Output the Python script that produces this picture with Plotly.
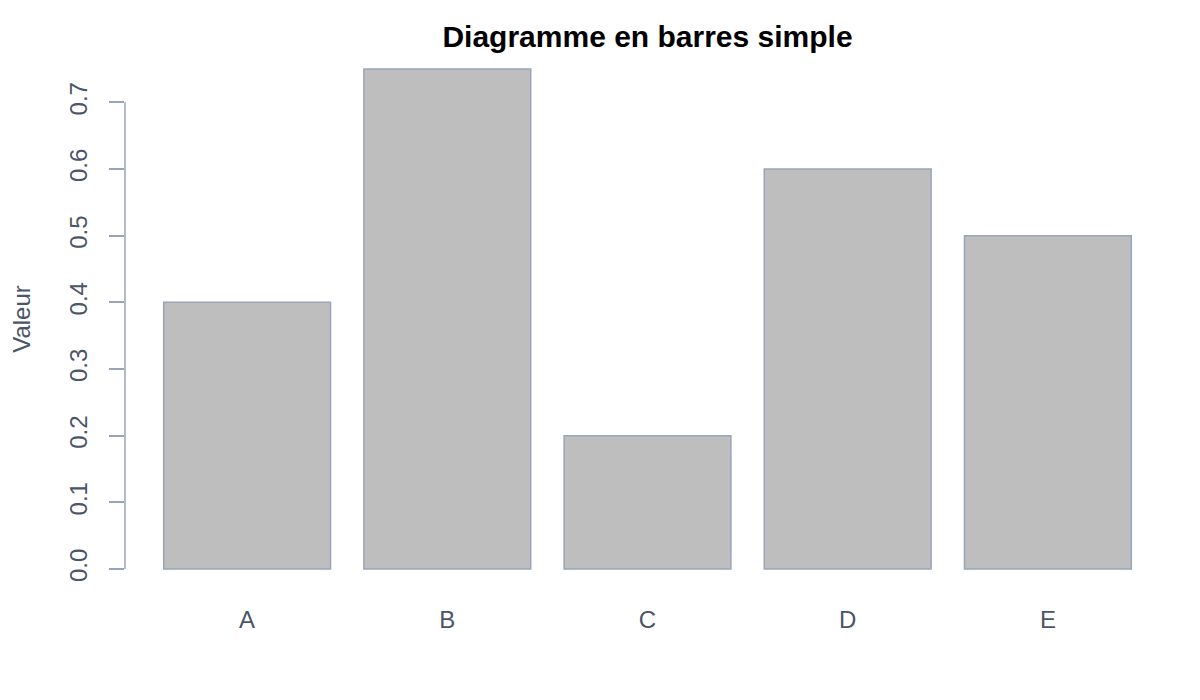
import plotly.graph_objects as go

categories = ["A", "B", "C", "D", "E"]
values = [0.4, 0.75, 0.2, 0.6, 0.5]
y_ticks = [0.0, 0.1, 0.2, 0.3, 0.4, 0.5, 0.6, 0.7]

axis_col = "#97a5ba"
text_col = "#4a5568"

fig = go.Figure()

fig.add_trace(
    go.Bar(
        x=categories,
        y=values,
        marker=dict(color="#bebebe", line=dict(color=axis_col, width=1.5)),
        hoverinfo="x+y",
    )
)

# R-style axis line: only from the first to the last tick
fig.add_shape(
    type="line",
    xref="paper",
    yref="y",
    x0=0,
    x1=0,
    y0=y_ticks[0],
    y1=y_ticks[-1],
    line=dict(color=axis_col, width=1.5),
)

# page body has an 8px margin, so margins are shifted to compensate
fig.update_layout(
    width=1200,
    height=700,
    paper_bgcolor="white",
    plot_bgcolor="white",
    showlegend=False,
    bargap=1 / 6,
    margin=dict(l=117, r=38, t=41, b=119, autoexpand=False),
    font=dict(family="Liberation Sans, Arial, sans-serif", color=text_col),
    title=dict(
        text="<b>Diagramme en barres simple</b>",
        x=0.5,
        xanchor="center",
        xref="paper",
        y=1 - 28 / 700,
        yanchor="middle",
        font=dict(size=30, color="black"),
    ),
    xaxis=dict(
        range=[-0.61, 4.61],
        showline=False,
        showgrid=False,
        zeroline=False,
        ticks="",
        ticklabelstandoff=14,
        tickfont=dict(size=24, color=text_col),
    ),
    yaxis=dict(
        range=[-0.03, 0.78],
        showline=False,
        showgrid=False,
        zeroline=False,
        tickvals=y_ticks,
        ticktext=[f"{v:.1f}" for v in y_ticks],
        ticks="outside",
        ticklen=15,
        tickwidth=1.5,
        tickcolor=axis_col,
        tickangle=-90,
        ticklabelstandoff=12,
        tickfont=dict(size=24, color=text_col),
        title=dict(text="Valeur", font=dict(size=24, color=text_col), standoff=38),
    ),
)

fig.write_html("out.html")
